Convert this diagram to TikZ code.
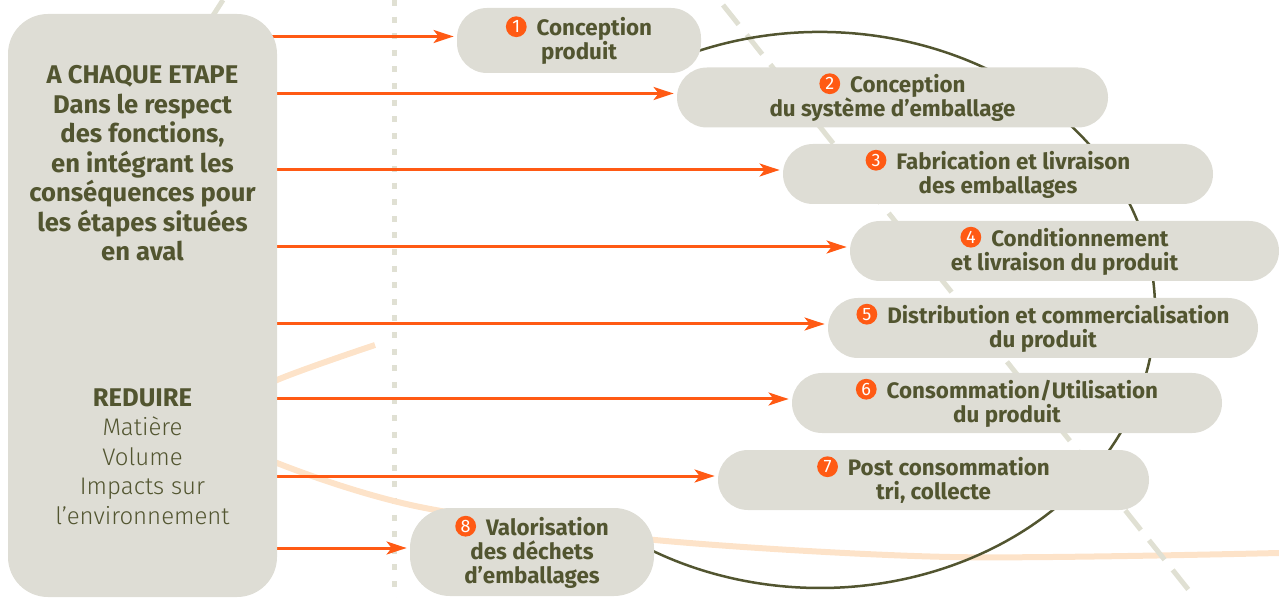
\documentclass[tikz,border=0pt]{standalone}
\usepackage{fontspec}
\setmainfont{Fira Sans}
\newfontfamily\lightfont{Fira Sans Light}
\usetikzlibrary{arrows.meta}
\usetikzlibrary{backgrounds}

\definecolor{boxgray}{HTML}{DEDDD5}
\definecolor{olivetxt}{HTML}{525530}
\definecolor{arrowor}{HTML}{FF5A14}
\definecolor{peach}{HTML}{FDE3C9}
\definecolor{dashgray}{HTML}{E0E0D3}

% orange disc with the step number
\newcommand{\nr}[1]{\tikz[baseline=-4.5pt]\fill[arrowor] (0pt,0pt) circle[radius=5.2pt];%
    \llap{\makebox[10.4pt]{\raisebox{1.4pt}{\color{white}\mdseries\fontsize{9}{9}\selectfont #1}}}\hspace{5pt}}

\tikzset{
  stepbox/.style={fill=boxgray, rounded corners=15pt, minimum height=30pt, align=center,
    text=olivetxt, font=\bfseries\fontsize{11.2}{12}\selectfont, inner sep=0pt},
  feed/.style={draw=arrowor, line width=1.5pt, shorten >=1.5pt,
    -{Stealth[length=10pt,width=6.5pt,inset=2.5pt]}},
  decor/.style={dashgray, line width=2.5pt},
}

\begin{document}
\begin{tikzpicture}[x=0.5pt, y=-0.5pt]
    \useasboundingbox (0,0) rectangle (1279,598);

    % Left column
    \node[fill=boxgray, rounded corners=20pt, minimum width=134.5pt, minimum height=291.5pt, inner sep=0pt] (etape) at (142.5,305.5) {};
    \node[text=olivetxt, align=center, font=\bfseries\fontsize{12.8}{14.75}\selectfont] (respect) at (142.5,163.5)
        {A CHAQUE ETAPE\\Dans le respect\\des fonctions,\\en intégrant les\\conséquences pour\\les étapes situées\\en aval};
    \node[text=olivetxt, align=center, font=\lightfont\fontsize{12}{14.75}\selectfont] (reduire) at (142.5,456.5)
        {{\normalfont\bfseries\fontsize{12.8}{14.75}\selectfont REDUIRE}\\Matière\\Volume\\Impacts sur\\l’environnement};

    % The eight steps
    \node[stepbox, minimum width=122pt, minimum height=32.5pt] (s1) at (579,40.5) {\nr{1}Conception\\produit};
    \node[stepbox, minimum width=215.5pt] (s2) at (892.5,97.5) {\nr{2}Conception\\du système d’emballage};
    \node[stepbox, minimum width=215pt] (s3) at (998,174) {\nr{3}Fabrication et livraison\\des emballages};
    \node[stepbox, minimum width=214.5pt] (s4) at (1064.5,251) {\nr{4}Conditionnement\\et livraison du produit};
    \node[stepbox, minimum width=215pt] (s5) at (1043,328) {\nr{5}Distribution et commercialisation\\du produit};
    \node[stepbox, minimum width=215pt] (s6) at (1007,403) {\nr{6}Consommation/Utilisation\\du produit};
    \node[stepbox, minimum width=215.5pt] (s7) at (933.5,480) {\nr{7}Post consommation\\tri, collecte};
    \node[stepbox, minimum width=122pt, minimum height=44pt, rounded corners=20pt] (s8) at (532,552) {\nr{8}Valorisation\\des déchets\\d’emballages};

    \begin{scope}[on background layer]
        % Decoration behind the boxes
        \draw[decor, dash pattern=on 3pt off 5.3pt] (394,0) -- (394,598);
        \draw[decor] (223,0) -- (205,28);
        \draw[peach, line width=3pt] plot[smooth] coordinates
            {(375,345) (277,380) (200,420) (277,463) (420,507) (655,540) (950,557) (1279,553)};
        \draw[decor, dash pattern=on 12.5pt off 6.5pt] (723,5) -- (1195,598);
        \draw[olivetxt, line width=1.25pt] (820,310) ++(115:167.5pt and 139pt)
            arc[start angle=115, end angle=-125, x radius=167.5pt, y radius=139pt];

        % Arrows from the left column
        \foreach \s in {s1,s2,s3,s4,s5,s6,s7,s8}
            \draw[feed] ([xshift=-10pt]etape.east |- \s.west) ++(0,-4) -- ([yshift=2pt]\s.west);
    \end{scope}
\end{tikzpicture}
\end{document}
